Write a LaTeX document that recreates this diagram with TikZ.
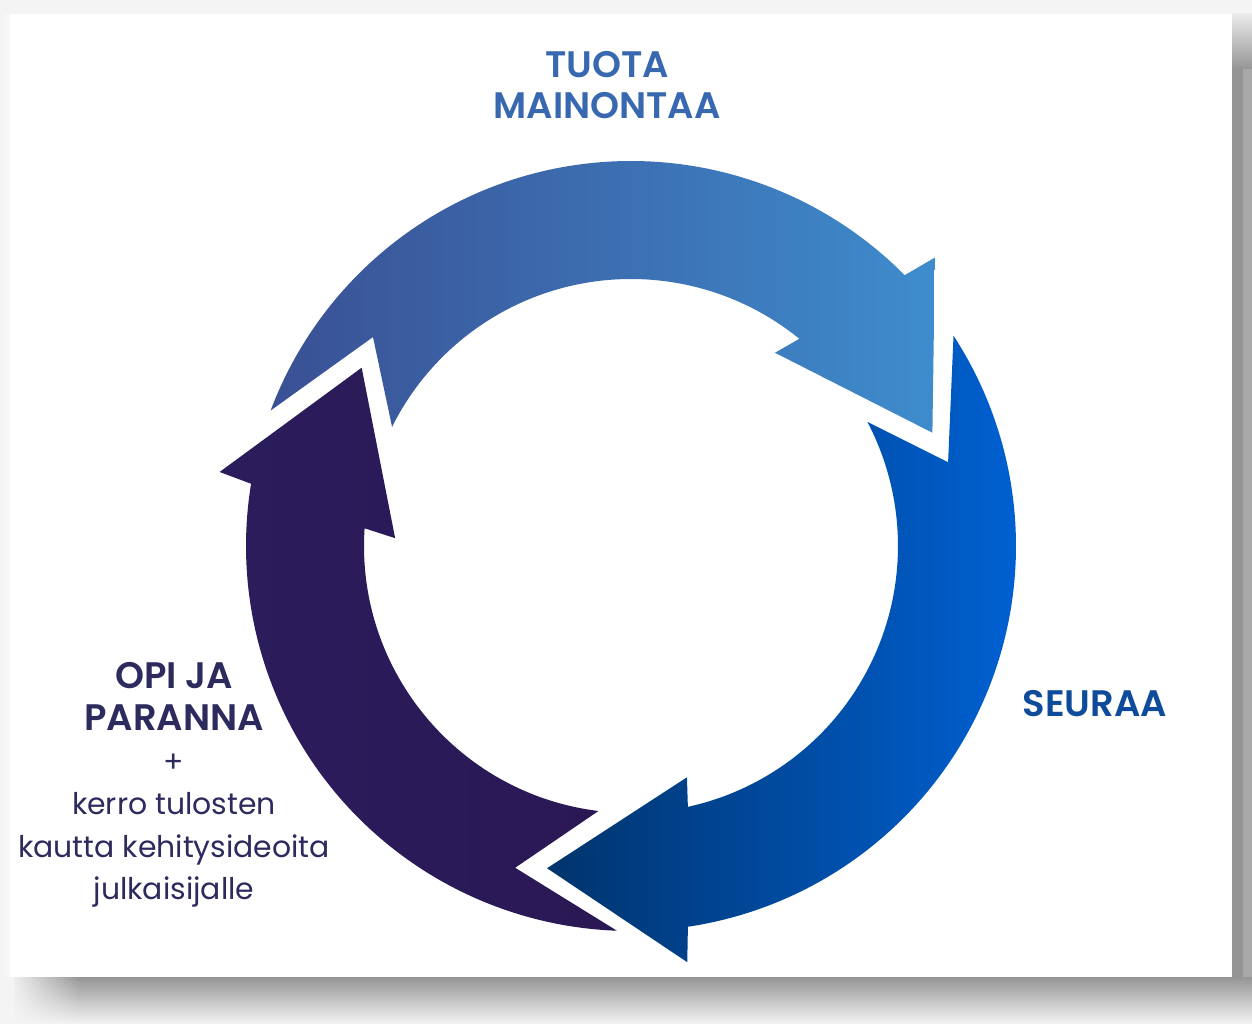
\documentclass[tikz,border=0pt]{standalone}
\usepackage{fontspec}
\setmainfont{Poppins}[BoldFont={Poppins SemiBold}]
\usetikzlibrary{fadings}
\definecolor{pagebg}{RGB}{244,244,244}
\definecolor{shadowgray}{RGB}{149,149,149}
\definecolor{shadowlight}{RGB}{168,168,168}
\definecolor{topleft}{RGB}{58,80,148}
\definecolor{topright}{RGB}{62,140,205}
\definecolor{rightleft}{RGB}{0,52,108}
\definecolor{rightright}{RGB}{0,98,214}
\definecolor{leftouter}{RGB}{43,28,92}
\definecolor{leftmid}{RGB}{50,49,114}
\definecolor{leftinner}{RGB}{42,24,84}
\definecolor{tuotacolor}{RGB}{56,105,176}
\definecolor{seuraacolor}{RGB}{14,76,155}
\definecolor{opicolor}{RGB}{45,42,94}
\newcommand{\headfont}{\fontsize{21}{24}\selectfont\bfseries}

\begin{document}
\begin{tikzpicture}[x=0.02cm, y=0.02cm,
    heading/.style={inner sep=0pt, align=center, font=\fontsize{21}{23.3}\selectfont\bfseries},
    note/.style={inner sep=0pt, align=center, font=\fontsize{17}{24}\selectfont, text=opicolor}]
        \useasboundingbox (0,0) rectangle (1252,1024);

        % Page, shadow and card
        \fill[pagebg] (0,0) rectangle (1252,1024);
        \fill[black!3] (4,47) rectangle (10,1010);
        \shade[top color=shadowgray, bottom color=pagebg] (14,0) rectangle (1252,47);
        \fill[shadowgray] (1232,47) rectangle (1252,1010);
        \fill[shadowlight] (1243,47) rectangle (1252,1010);
        \shade[top color=black!8, bottom color=shadowgray] (1232,955) rectangle (1252,1010);
        \fill[pagebg, path fading=east] (10,0) rectangle (80,47);
        \fill[white] (10,47) rectangle (1232,1010);

        % Centre of the cycle
        \coordinate (C) at (631,478);

        \begin{scope}[shift={(C)}]
            % Top arrow
            \shade[left color=topleft, right color=topright]
                (159.4:385) arc[start angle=159.4, end angle=44.7, radius=385]
                -- (43.5:419) -- (20.6:322) -- (53.3:241) -- (50.9:267)
                arc[start angle=50.9, end angle=153.5, radius=267]
                -- (141:332) -- cycle;

            % Right arrow
            \shade[left color=rightleft, right color=rightright]
                (33.1:385) arc[start angle=33.1, end angle=-81.5, radius=385]
                -- (-82.3:420) -- (-104.6:333) -- (-76.4:238) -- (-77.7:267)
                arc[start angle=-77.7, end angle=27.7, radius=267]
                -- (14.8:328) -- cycle;

            % Left arrow
            \shade[left color=leftouter, middle color=leftmid, right color=leftinner]
                (-92.1:385) arc[start angle=-92.1, end angle=-189.3, radius=385]
                -- (169.8:418) -- (146.5:323) -- (178.1:236) -- (176.2:267)
                arc[start angle=-183.8, end angle=-97, radius=267]
                -- (-109.8:342) -- cycle;
        \end{scope}

        % Label positions
        \coordinate (Top) at (607,973);
        \coordinate (Right) at (1095,320);
        \coordinate (Left) at (174,362);

        % Add labels
        \node[heading, text=tuotacolor, anchor=north] (tuota) at (Top) {TUOTA\\MAINONTAA};
        \node[heading, text=seuraacolor] (seuraa) at (Right) {SEURAA};
        \node[note, anchor=north] (opi) at (Left) {\headfont OPI JA\\\headfont PARANNA\\+\\kerro tulosten\\kautta kehitysideoita\\julkaisijalle};
    \end{tikzpicture}
\end{document}
